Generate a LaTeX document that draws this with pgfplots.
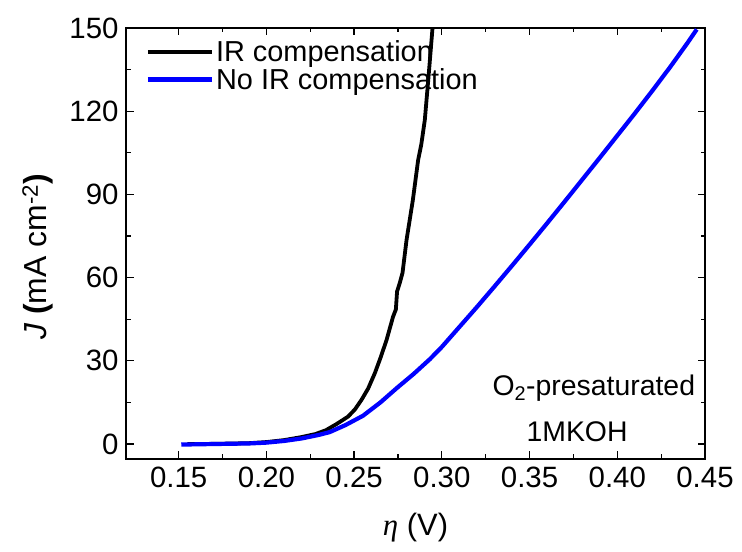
\documentclass[border=0pt]{standalone}
\usepackage{fontspec}
\setmainfont{Liberation Sans}
\newfontfamily\seriffont{Liberation Serif}
\usepackage{pgfplots}
\pgfplotsset{compat=1.18}
\begin{document}
\begin{tikzpicture}
\useasboundingbox (0,0) rectangle (742bp,552bp);
\begin{axis}[
  at={(126bp,93bp)}, anchor=south west,
  scale only axis, width=579bp, height=431bp,
  xmin=0.12, xmax=0.45, ymin=-5.4, ymax=150,
  xtick={0.15,0.20,...,0.45},
  xticklabels={0.15,0.20,0.25,0.30,0.35,0.40,0.45},
  ytick={0,30,...,150},
  minor x tick num=1, minor y tick num=1,
  tick align=inside, tick pos=both,
  major tick length=7.5bp, minor tick length=4.5bp,
  axis line style={line width=1.4bp},
  every tick/.style={black, line width=1.2bp},
  tick label style={font=\fontsize{29.5}{33}\selectfont},
  /pgf/number format/assume math mode=true,
  xticklabel style={yshift=-4bp},
  yticklabel style={xshift=-4bp},
  xlabel={{\seriffont\itshape η} (V)},
  xlabel style={font=\fontsize{31}{35}\selectfont, at={(axis description cs:0.5,-0.16)}, anchor=center},
  ylabel={\textit{J} \textbf{(}mA cm\textsuperscript{-2}\textbf{)}},
  ylabel style={font=\fontsize{32}{36}\selectfont, at={(axis description cs:-0.152,0.469)}, anchor=center},
  legend style={at={(axis description cs:0.034,0.975)}, anchor=north west, draw=none, fill=none,
    font=\fontsize{29}{33}\selectfont, inner sep=0pt, row sep=1bp,
    /tikz/every even column/.append style={column sep=11bp}},
  legend cell align=left,
  legend image code/.code={\draw[#1] (0bp,0bp) -- (64bp,0bp);},
  clip=true,
]
\addplot[black, line width=3.8bp] coordinates {
(0.155,0) (0.17,0.05) (0.19,0.3) (0.20,0.7) (0.21,1.4) (0.22,2.5) (0.228,3.6) (0.234,5)
(0.240,7.2) (0.2466,9.9) (0.2505,12.5) (0.2542,15.9) (0.258,20) (0.2618,25.5) (0.265,31)
(0.2685,37.5) (0.2722,45.9) (0.2738,48.5) (0.2745,55) (0.2760,58) (0.2776,61.7) (0.2799,73.6)
(0.2835,88) (0.2865,102.4) (0.2883,108) (0.2903,116.8) (0.2925,133) (0.2947,150) (0.2955,156)
};
\addlegendentry{IR compensation}
\addplot[color={rgb,255:red,0;green,0;blue,255}, line width=4.2bp] coordinates {
(0.1515,-0.2) (0.17,0) (0.19,0.2) (0.20,0.5) (0.21,1.1) (0.22,2.0) (0.2247,2.6) (0.23,3.3)
(0.2361,4.3) (0.245,6.8) (0.2551,10.2) (0.265,15) (0.2742,20.1) (0.284,25.3) (0.2932,30.6)
(0.30,35.0) (0.31,42.2) (0.32,49.4) (0.33,56.8) (0.34,64.3) (0.35,71.9) (0.36,79.6)
(0.37,87.4) (0.38,95.3) (0.39,103.2) (0.40,111.2) (0.41,119.2) (0.42,127.4) (0.43,135.8)
(0.44,144.6) (0.4453,149.5)
};
\addlegendentry{No IR compensation}
\node[font=\fontsize{28.5}{32}\selectfont] at (rel axis cs:0.808,0.165) {O\textsubscript{2}-presaturated};
\node[font=\fontsize{28.5}{32}\selectfont] at (rel axis cs:0.779,0.063) {1MKOH};
\end{axis}
\end{tikzpicture}
\end{document}
